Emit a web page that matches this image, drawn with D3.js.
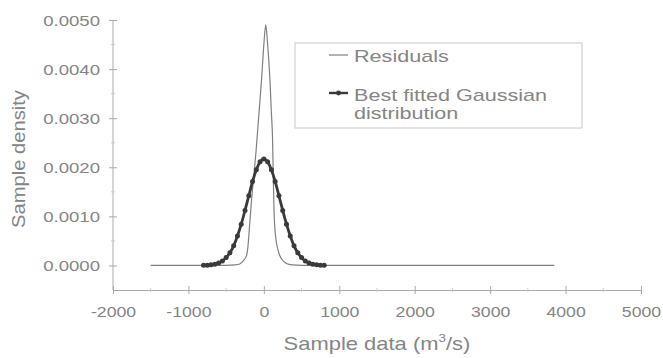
<!DOCTYPE html>
<html>
<head>
<meta charset="utf-8">
<script src="https://cdn.jsdelivr.net/npm/d3@7"></script>
<style>
  html, body { margin: 0; padding: 0; background: #fff; }
  svg { display: block; font-family: "Liberation Sans", Arial, Helvetica, sans-serif; }
</style>
</head>
<body>
<div id="root"></div>
<script>
// residuals density (x in m3/s, y = density)
const residualX = [-1500, -500, -380, -320, -270, -230, -210, -190, -165, -135, -105, -70, -30, 0, 25, 50, 80, 100, 115, 125, 135, 155, 190, 240, 300, 380, 500, 2000, 3850]
const residualY = [0, 0, 0.00001, 0.00003, 0.0001, 0.0002, 0.0004, 0.0008, 0.0013, 0.0018, 0.0023, 0.0030, 0.0038, 0.0045, 0.0049, 0.0045, 0.0038, 0.0031, 0.0026, 0.0018, 0.0011, 0.0006, 0.0003, 0.00012, 0.00004, 0.00001, 0, 0, 0]

// best fitted gaussian, one marker every 50 m3/s
const gaussX = [-800, -750, -700, -650, -600, -550, -500, -450, -400, -350, -300, -250, -200, -150, -100, -50, 0, 50, 100, 150, 200, 250, 300, 350, 400, 450, 500, 550, 600, 650, 700, 750, 800]
const gaussY = [0.000002, 0.000006, 0.000012, 0.000026, 0.00005, 0.00009, 0.00016, 0.00026, 0.0004, 0.0006, 0.00084, 0.00112, 0.00142, 0.00171, 0.00195, 0.00211, 0.00217, 0.00211, 0.00195, 0.00171, 0.00142, 0.00112, 0.00084, 0.0006, 0.0004, 0.00026, 0.00016, 0.00009, 0.00005, 0.000026, 0.000012, 0.000006, 0.000002]

const xTicks = [-2000, -1000, 0, 1000, 2000, 3000, 4000, 5000]
const yTicks = [0, 0.001, 0.002, 0.003, 0.004, 0.005]
const legendLabels = ['Residuals', 'Best fitted Gaussian', 'distribution']

const WIDTH = 663
const HEIGHT = 358
const PLOT_LEFT = 113
const PLOT_RIGHT = 641
const PLOT_TOP = 20
const PLOT_BOTTOM = 290

const TEXT_COLOR = '#858585'
const AXIS_COLOR = '#aaa'

const svg = d3.select('#root')
    .append('svg')
    .attr('width', WIDTH)
    .attr('height', HEIGHT)

const xScale = d3.scaleLinear()
    .domain([-2000, 5000])
    .range([PLOT_LEFT, PLOT_RIGHT])

const yScale = d3.scaleLinear()
    .domain([-0.0005, 0.005])
    .range([PLOT_BOTTOM, PLOT_TOP])

// text in the scan is wider than it is tall
const addText = (parent, x, y, str, size, stretch, anchor) => parent.append('text')
    .attr('transform', `translate(${x},${y}) scale(${stretch},1)`)
    .attr('text-anchor', anchor || 'start')
    .attr('font-size', size)
    .attr('fill', TEXT_COLOR)
    .text(str)

// x axis
const xAxis = d3.axisBottom(xScale).tickValues(xTicks).tickSizeOuter(0).tickFormat(d => String(d))
const gx = svg.append('g')
    .attr('transform', `translate(0,${PLOT_BOTTOM})`)
    .call(xAxis)
gx.select('.domain').attr('stroke', AXIS_COLOR)
gx.selectAll('.tick line').attr('y1', -4).attr('y2', 4).attr('stroke', AXIS_COLOR)
gx.selectAll('.tick text').remove()
gx.selectAll('.tick').each(function (d) {
    addText(d3.select(this), 0, 27, String(d), 15.5, 1.14, 'middle')
})
gx.selectAll('.minor')
    .data(xTicks.slice(0, -1).map(d => d + 500))
    .enter()
    .append('line')
    .attr('x1', d => xScale(d))
    .attr('x2', d => xScale(d))
    .attr('y1', -2)
    .attr('y2', 2)
    .attr('stroke', '#ccc')

// y axis
const yAxis = d3.axisLeft(yScale).tickValues(yTicks).tickSizeOuter(0)
const gy = svg.append('g')
    .attr('transform', `translate(${PLOT_LEFT},0)`)
    .call(yAxis)
gy.select('.domain').attr('stroke', AXIS_COLOR).attr('d', `M0,${PLOT_TOP}V${PLOT_BOTTOM}`)
gy.selectAll('.tick line').attr('x1', -4).attr('x2', 4).attr('stroke', AXIS_COLOR)
gy.selectAll('.tick text').remove()
gy.selectAll('.tick').each(function (d) {
    addText(d3.select(this), -13, 5.5, d3.format('.4f')(d), 15.5, 1.2, 'end')
})
gy.selectAll('.minor')
    .data(yTicks.slice(0, -1).map(d => d + 0.0005))
    .enter()
    .append('line')
    .attr('y1', d => yScale(d))
    .attr('y2', d => yScale(d))
    .attr('x1', -2)
    .attr('x2', 2)
    .attr('stroke', '#ccc')

// axis titles
const xTitle = addText(svg, (PLOT_LEFT + PLOT_RIGHT) / 2, 350, 'Sample data (m', 18, 1.22, 'middle')
xTitle.append('tspan').attr('font-size', 11).attr('dy', -8).text('3')
xTitle.append('tspan').attr('dy', 8).text('/s)')

svg.append('text')
    .attr('transform', `translate(25,159) rotate(-90) scale(1.12,1)`)
    .attr('text-anchor', 'middle')
    .attr('font-size', 18)
    .attr('fill', TEXT_COLOR)
    .text('Sample density')

// curves
const residualLine = d3.line()
    .x((d, i) => xScale(residualX[i]))
    .y(d => yScale(d))
    .curve(d3.curveMonotoneX)

svg.append('path')
    .datum(residualY)
    .attr('d', residualLine)
    .attr('fill', 'none')
    .attr('stroke', '#808080')
    .attr('stroke-width', 1.2)

const gaussLine = d3.line()
    .x((d, i) => xScale(gaussX[i]))
    .y(d => yScale(d))
    .curve(d3.curveMonotoneX)

svg.append('path')
    .datum(gaussY)
    .attr('d', gaussLine)
    .attr('fill', 'none')
    .attr('stroke', '#3a3a3a')
    .attr('stroke-width', 2.8)

svg.selectAll('.gauss-dot')
    .data(gaussY)
    .enter()
    .append('circle')
    .attr('cx', (d, i) => xScale(gaussX[i]))
    .attr('cy', d => yScale(d))
    .attr('r', 2.5)
    .attr('fill', '#3a3a3a')

// legend
const legend = svg.append('g')
legend.append('rect')
    .attr('x', 295)
    .attr('y', 43)
    .attr('width', 287)
    .attr('height', 85)
    .attr('fill', '#fff')
    .attr('stroke', '#c8c8c8')

legend.append('line')
    .attr('x1', 329).attr('x2', 348)
    .attr('y1', 55).attr('y2', 55)
    .attr('stroke', '#808080')
    .attr('stroke-width', 1.2)
legend.append('line')
    .attr('x1', 329).attr('x2', 348)
    .attr('y1', 93).attr('y2', 93)
    .attr('stroke', '#3a3a3a')
    .attr('stroke-width', 2.4)
legend.append('circle')
    .attr('cx', 338.5).attr('cy', 93)
    .attr('r', 2.4)
    .attr('fill', '#3a3a3a')

addText(legend, 354, 62, legendLabels[0], 17, 1.27)
addText(legend, 354, 101, legendLabels[1], 17, 1.27)
addText(legend, 354, 119, legendLabels[2], 17, 1.27)
</script>
</body>
</html>
